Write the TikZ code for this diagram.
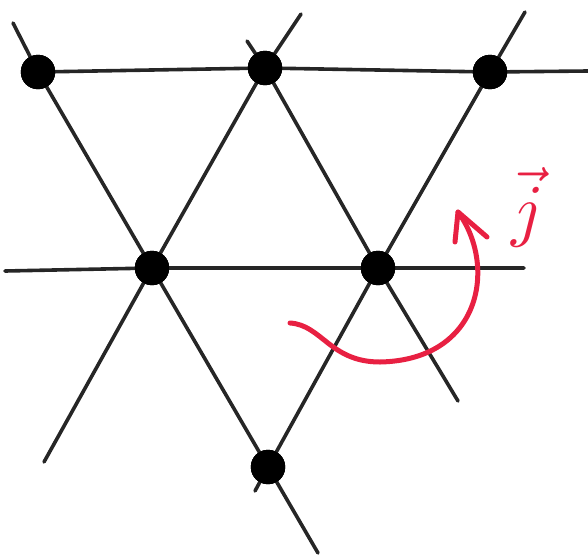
\documentclass[tikz,border=0pt]{standalone}
\begin{document}
\begin{tikzpicture}[x=1pt,y=-1pt,
  site/.style={circle,fill=black,draw=black,inner sep=0pt,minimum size=34pt},
  bond/.style={draw=black!85,line width=3.6pt,line cap=round},
  curr/.style={draw=penred,line width=5pt,line cap=round,line join=round}]
\definecolor{penred}{RGB}{232,32,66}
\useasboundingbox (0,0) rectangle (588,557);
% sites
\node[site] (A) at (38,72) {};
\node[site] (B) at (265,68) {};
\node[site] (C) at (490,72) {};
\node[site] (D) at (152,268) {};
\node[site] (E) at (378,268) {};
\node[site] (F) at (268,467) {};
% free ends
\coordinate (h1r) at (588,71);
\coordinate (h2l) at (5,271);
\coordinate (h2r) at (524,268);
\coordinate (d1t) at (13,23);
\coordinate (d1b) at (318,553);
\coordinate (d2t) at (301,14);
\coordinate (d2b) at (44,462);
\coordinate (d3t) at (247,41);
\coordinate (d3b) at (458,401);
\coordinate (d4t) at (525,12);
\coordinate (d4b) at (255,491);
% bonds
\draw[bond] (A.center) -- (B.center) -- (C.center) -- (h1r);
\draw[bond] (h2l) -- (D.center) -- (E.center) -- (h2r);
\draw[bond] (d1t) -- (A.center) -- (D.center) -- (F.center) -- (d1b);
\draw[bond] (d2t) -- (B.center) -- (D.center) -- (d2b);
\draw[bond] (d3t) -- (B.center) -- (E.center) -- (d3b);
\draw[bond] (d4t) -- (C.center) -- (E.center) -- (F.center) -- (d4b);
\node[site] at (A) {};
\node[site] at (B) {};
\node[site] at (C) {};
\node[site] at (D) {};
\node[site] at (E) {};
\node[site] at (F) {};
% current arrow
\coordinate (cs) at (290,323);
\coordinate (cm) at (380,362);
\coordinate (ct) at (458,212);
\coordinate (cl) at (455,242);
\coordinate (cr) at (487,237);
\draw[curr] (cs) .. controls (322,325) and (330,362) .. (cm)
  .. controls (482,360) and (497,265) .. (ct);
\draw[curr] (cl) -- (ct) -- (cr);
% label
\node[text=penred,scale=7] (lbl) at (528,207) {$\vec{j}$};
\end{tikzpicture}
\end{document}
